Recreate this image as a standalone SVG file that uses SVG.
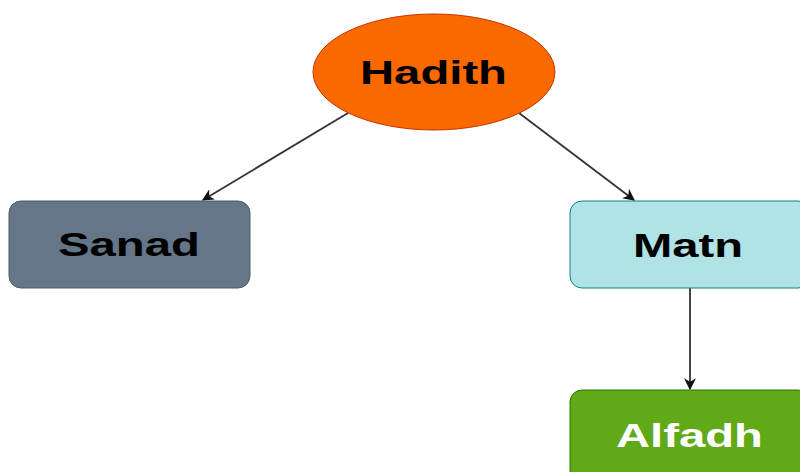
<svg xmlns="http://www.w3.org/2000/svg" width="800" height="472" viewBox="0 0 800 472">
  <style>
    .lbl { font-family: "Liberation Sans", Arial, sans-serif; font-weight: bold; font-size: 34px; text-anchor: middle; dominant-baseline: central; }
    .edge { stroke: #333; stroke-width: 1.8; fill: none; marker-end: url(#arrow); }
  </style>
  <defs>
    <marker id="arrow" viewBox="0 0 10 10" refX="9" refY="5" markerWidth="12" markerHeight="12" markerUnits="userSpaceOnUse" orient="auto">
      <path d="M0,0 L10,5 L0,10 L3,5 Z" fill="#111"/>
    </marker>
  </defs>
  <rect width="800" height="472" fill="#fff"/>
  <g id="connectors">
    <line class="edge" x1="348" y1="113" x2="203" y2="200"/>
    <line class="edge" x1="519" y1="113" x2="634" y2="200"/>
    <line class="edge" x1="690" y1="288" x2="690" y2="389"/>
  </g>
  <g id="hadith">
    <ellipse cx="434" cy="72" rx="121" ry="58" fill="#fa6800" stroke="#c73500" stroke-width="1"/>
    <text class="lbl" x="433.5" y="72" fill="#000" textLength="147" lengthAdjust="spacingAndGlyphs">Hadith</text>
  </g>
  <g id="sanad">
    <rect x="9" y="201" width="241" height="87" rx="12" fill="#647687" stroke="#4f5b66" stroke-width="1"/>
    <text class="lbl" x="129" y="244" fill="#000" textLength="142" lengthAdjust="spacingAndGlyphs">Sanad</text>
  </g>
  <g id="matn">
    <rect x="570" y="201" width="240" height="87" rx="12" fill="#b0e3e6" stroke="#0e8088" stroke-width="1"/>
    <text class="lbl" x="688" y="245" fill="#000" textLength="110" lengthAdjust="spacingAndGlyphs">Matn</text>
  </g>
  <g id="alfadh">
    <rect x="570" y="390" width="240" height="100" rx="12" fill="#60a917" stroke="#2d7600" stroke-width="1"/>
    <text class="lbl" x="689.5" y="435" fill="#fff" textLength="147" lengthAdjust="spacingAndGlyphs">Alfadh</text>
  </g>
</svg>
